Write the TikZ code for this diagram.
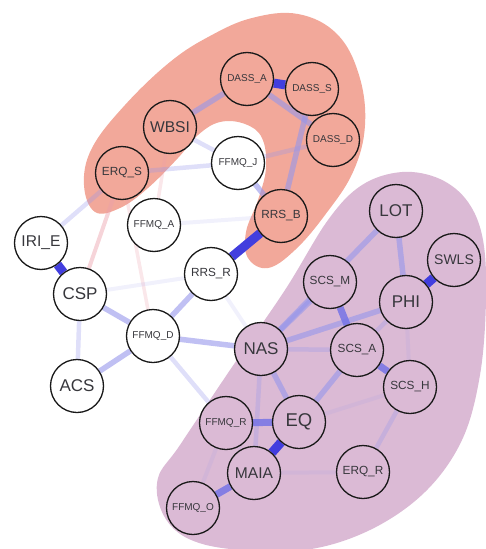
\documentclass[tikz,border=0pt]{standalone}
\usepackage{fontspec}
\setmainfont{Liberation Sans}
\definecolor{salmonfill}{RGB}{242,168,154}
\definecolor{plumfill}{RGB}{219,186,213}
\definecolor{edgestrong}{RGB}{66,62,222}
\definecolor{edgemid}{RGB}{118,116,230}
\definecolor{edgelav}{RGB}{150,150,235}
\definecolor{edgeneg}{RGB}{235,160,170}
\definecolor{labelgray}{RGB}{55,55,60}
\pgfdeclarelayer{hulls}
\pgfdeclarelayer{links}
\pgfsetlayers{hulls,links,main}
\begin{document}
\begin{tikzpicture}[x=1pt,y=-1pt,
  var/.style={circle, draw=black!90, line width=1.3pt, minimum size=53pt, inner sep=0pt,
              text=labelgray, font=\fontsize{11.8}{12}\selectfont},
  inred/.style={var, fill=salmonfill},
  inplum/.style={var, fill=plumfill},
  outside/.style={var, fill=white},
  big/.style={font=\fontsize{17}{18}\selectfont},
  mid/.style={font=\fontsize{15.6}{16}\selectfont},
  tiny/.style={font=\fontsize{10}{11}\selectfont},
  ew1/.style={draw=edgestrong, line width=9pt},
  ew2/.style={draw=edgemid, line width=7pt, draw opacity=.85},
  ew3/.style={draw=edgelav, line width=5.5pt, draw opacity=.6},
  ew4/.style={draw=edgelav, line width=4.5pt, draw opacity=.3},
  ew5/.style={draw=edgelav, line width=4pt, draw opacity=.13},
  eneg/.style={draw=edgeneg, line width=4pt, draw opacity=.45},
  eneglight/.style={draw=edgeneg, line width=3.5pt, draw opacity=.25}]

\useasboundingbox (0,0) rectangle (485,549);

% community hulls
\begin{pgfonlayer}{hulls}
\fill[salmonfill] plot[smooth cycle, tension=0.65] coordinates {
  (95,212) (84,185) (92,148) (125,105) (170,62) (210,36) (252,18) (298,14)
  (337,34) (359,75) (365,125) (353,172) (325,215) (295,250) (268,268)
  (248,258) (246,232) (258,200) (266,168) (262,138) (245,124) (220,122)
  (198,135) (178,158) (148,188) (120,208)};
\fill[plumfill] plot[smooth cycle, tension=0.6] coordinates {
  (328,220) (362,185) (402,172) (440,179) (468,202) (483,240) (486,300)
  (480,375) (462,440) (425,492) (370,530) (305,550) (230,549) (185,537)
  (162,512) (158,478) (180,445) (230,370) (285,290)};
\end{pgfonlayer}

% variables
\node[inred, tiny] (dassa) at (247,79) {DASS\_A};
\node[inred, tiny] (dasss) at (312,89) {DASS\_S};
\node[inred, tiny] (dassd) at (333,140) {DASS\_D};
\node[inred, mid]  (wbsi)  at (170,127) {WBSI};
\node[inred]       (erqs)  at (122,173) {ERQ\_S};
\node[inred]       (rrsb)  at (281,216) {RRS\_B};
\node[outside, tiny] (ffmqj) at (238,163) {FFMQ\_J};
\node[outside, tiny] (ffmqa) at (154,225) {FFMQ\_A};
\node[outside, mid]  (irie)  at (41,243) {IRI\_E};
\node[outside, big]  (csp)   at (80,294) {CSP};
\node[outside]       (rrsr)  at (211,274) {RRS\_R};
\node[outside, tiny] (ffmqd) at (153,336) {FFMQ\_D};
\node[outside, big]  (acs)   at (77,386) {ACS};
\node[inplum, big] (lot)  at (396,211) {LOT};
\node[inplum, font=\fontsize{14}{15}\selectfont] (swls) at (454,260) {SWLS};
\node[inplum, big] (phi)  at (406,302) {PHI};
\node[inplum]      (scsm) at (330,282) {SCS\_M};
\node[inplum, big] (nas)  at (261,349) {NAS};
\node[inplum]      (scsa) at (357,350) {SCS\_A};
\node[inplum]      (scsh) at (410,387) {SCS\_H};
\node[inplum, tiny] (ffmqr) at (226,423) {FFMQ\_R};
\node[inplum, font=\fontsize{18.5}{19}\selectfont] (eq) at (299,422) {EQ};
\node[inplum, mid] (maia) at (254,473) {MAIA};
\node[inplum]      (erqr) at (363,472) {ERQ\_R};
\node[inplum, tiny] (ffmqo) at (193,508) {FFMQ\_O};

% partial correlations, beneath the variables
\begin{pgfonlayer}{links}
\path[eneg] (erqs) -- (csp);
\path[eneglight] (erqs) -- (ffmqd);
\path[eneglight] (wbsi) -- (ffmqa);
\path[ew5] (ffmqa) -- (rrsb);
\path[ew5] (csp) -- (rrsr);
\path[ew5] (rrsr) -- (nas);
\path[ew5] (ffmqo) -- (ffmqr);
\path[ew5] (ffmqr) -- (maia);
\path[ew5] (phi) -- (scsh);
\path[ew5] (eq) -- (scsh);
\path[ew5] (maia) -- (erqr);
\path[ew4] (irie) -- (erqs);
\path[ew4] (erqs) -- (ffmqj);
\path[ew4] (wbsi) -- (ffmqj);
\path[ew4] (ffmqj) -- (dassd);
\path[ew4] (csp) -- (acs);
\path[ew4] (ffmqd) -- (ffmqr);
\path[ew4] (nas) -- (scsa);
\path[ew4] (scsa) -- (phi);
\path[ew4] (nas) -- (maia);
\path[ew4] (scsh) -- (erqr);
\path[ew3] (dassa) -- (wbsi);
\path[ew3] (dassa) -- (dassd);
\path[ew3] (dasss) -- (rrsb);
\path[ew3] (ffmqj) -- (rrsb);
\path[ew3] (csp) -- (ffmqd);
\path[ew3] (acs) -- (ffmqd);
\path[ew3] (ffmqd) -- (rrsr);
\path[ew3] (ffmqd) -- (nas);
\path[ew3] (lot) -- (nas);
\path[ew3] (lot) -- (phi);
\path[ew3] (nas) -- (phi);
\path[ew3] (scsm) -- (nas);
\path[ew3] (scsa) -- (eq);
\path[ew3] (nas) -- (eq);
\path[ew2] (scsm) -- (scsa);
\path[ew2] (scsa) -- (scsh);
\path[ew2] (ffmqr) -- (eq);
\path[ew2] (maia) -- (ffmqo);
\path[ew1] (dassa) -- (dasss);
\path[ew1] (irie) -- (csp);
\path[ew1] (rrsr) -- (rrsb);
\path[ew1] (phi) -- (swls);
\path[ew1] (eq) -- (maia);
\end{pgfonlayer}
\end{tikzpicture}
\end{document}
